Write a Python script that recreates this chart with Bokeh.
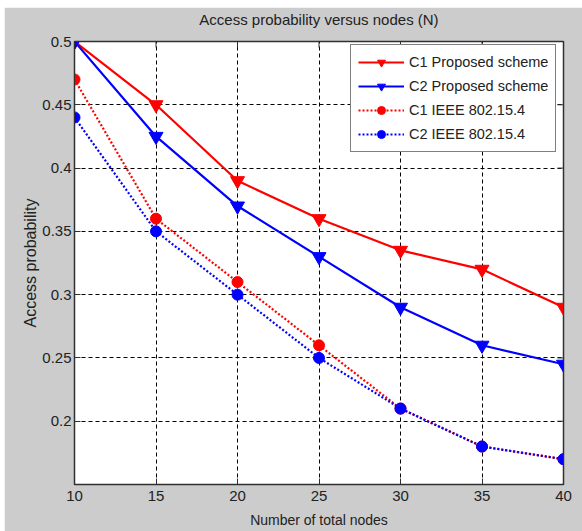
import math
from bokeh.plotting import figure
from bokeh.models import Range1d, FixedTicker, Legend, Spacer, LinearAxis
from bokeh.layouts import column, row
from bokeh.embed import file_html
from bokeh.resources import INLINE

nodes = [10, 15, 20, 25, 30, 35, 40]
c1_proposed = [0.50, 0.45, 0.39, 0.36, 0.335, 0.32, 0.29]
c2_proposed = [0.50, 0.425, 0.37, 0.33, 0.29, 0.26, 0.245]
c1_ieee = [0.47, 0.36, 0.31, 0.26, 0.21, 0.18, 0.17]
c2_ieee = [0.44, 0.35, 0.30, 0.25, 0.21, 0.18, 0.17]
x_ticks = [10, 15, 20, 25, 30, 35, 40]
y_ticks = [0.2, 0.25, 0.3, 0.35, 0.4, 0.45, 0.5]
x_lim = (10, 40)
y_lim = (0.15, 0.5)
title_text = "Access probability versus nodes (N)"

FONT = "Liberation Sans"
BG = "#cccccc"
TXT = "#222222"
AX = "#303030"

p = figure(width=578, height=524, output_backend="svg", toolbar_location=None,
           x_range=Range1d(*x_lim), y_range=Range1d(*y_lim),
           min_border_left=70, min_border_right=19, min_border_top=33, min_border_bottom=47)
p.border_fill_color = BG
p.background_fill_color = "white"
p.outline_line_color = AX
p.outline_line_width = 1.5

bottom_axis = p.below[0]
left_axis = p.left[0]

for ax, ticks in ((bottom_axis, x_ticks), (left_axis, y_ticks)):
    ax.ticker = FixedTicker(ticks=ticks)
    ax.major_label_text_font = FONT
    ax.major_label_text_font_size = "15px"
    ax.major_label_text_color = TXT
    ax.axis_label_text_font = FONT
    ax.axis_label_text_font_style = "normal"
    ax.axis_label_text_color = TXT
    ax.major_tick_in = 6
    ax.major_tick_out = 0
    ax.minor_tick_line_color = None
    ax.axis_line_color = AX
    ax.major_tick_line_color = AX

bottom_axis.axis_label = "Number of total nodes"
left_axis.axis_label = "Access probability"
bottom_axis.axis_label_text_font_size = "14px"
left_axis.axis_label_text_font_size = "16px"
bottom_axis.major_label_standoff = 6
left_axis.major_label_standoff = 3
bottom_axis.axis_label_standoff = 8
left_axis.axis_label_standoff = 0

# title drawn as the label of an otherwise empty top axis
top_axis = LinearAxis(ticker=FixedTicker(ticks=[]), axis_line_color=None,
                      major_tick_line_color=None, minor_tick_line_color=None,
                      major_tick_in=0, major_tick_out=0, minor_tick_in=0, minor_tick_out=0,
                      major_label_standoff=0,
                      axis_label=title_text, axis_label_standoff=14,
                      axis_label_text_font=FONT, axis_label_text_font_size="15px",
                      axis_label_text_font_style="normal", axis_label_text_color=TXT)
p.add_layout(top_axis, "above")

# inward ticks on the top and right edges of the box
p.ray(x=x_ticks, y=[y_lim[1]] * len(x_ticks), length=6, length_units="screen",
      angle=-math.pi / 2, line_color=AX, line_width=1)
p.ray(x=[x_lim[1]] * len(y_ticks), y=y_ticks, length=6, length_units="screen",
      angle=math.pi, line_color=AX, line_width=1)

p.xgrid.ticker = FixedTicker(ticks=x_ticks)
p.ygrid.ticker = FixedTicker(ticks=y_ticks)
p.grid.grid_line_color = "black"
p.grid.grid_line_dash = "4 3"
p.grid.grid_line_width = 1

series = [
    ("C1 Proposed scheme", c1_proposed, "#ff0000", "solid", "inverted_triangle", 14),
    ("C2 Proposed scheme", c2_proposed, "#0000ff", "solid", "inverted_triangle", 14),
    ("C1 IEEE 802.15.4", c1_ieee, "#ff0000", "2 2", "circle", 11),
    ("C2 IEEE 802.15.4", c2_ieee, "#0000ff", "2 2", "circle", 11),
]
items = []
for name, ys, col, dash, marker, size in series:
    l = p.line(nodes, ys, line_color=col, line_width=2.2, line_dash=dash)
    s = p.scatter(nodes, ys, marker=marker, size=size, fill_color=col, line_color=col)
    items.append((name, [l, s]))

legend = Legend(items=items, location=(276, 332))
legend.label_text_font = FONT
legend.label_text_font_size = "14.5px"
legend.label_text_color = TXT
legend.glyph_width = 46
legend.glyph_height = 20
legend.label_height = 20
legend.spacing = 4
legend.padding = 7
legend.margin = 0
legend.label_standoff = 5
legend.border_line_color = "black"
legend.border_line_width = 1
legend.background_fill_color = "white"
legend.background_fill_alpha = 1
p.add_layout(legend, "center")

layout = column(Spacer(width=582, height=7), row(Spacer(width=4, height=524), p))
open("out.html", "w").write(file_html(layout, INLINE))
